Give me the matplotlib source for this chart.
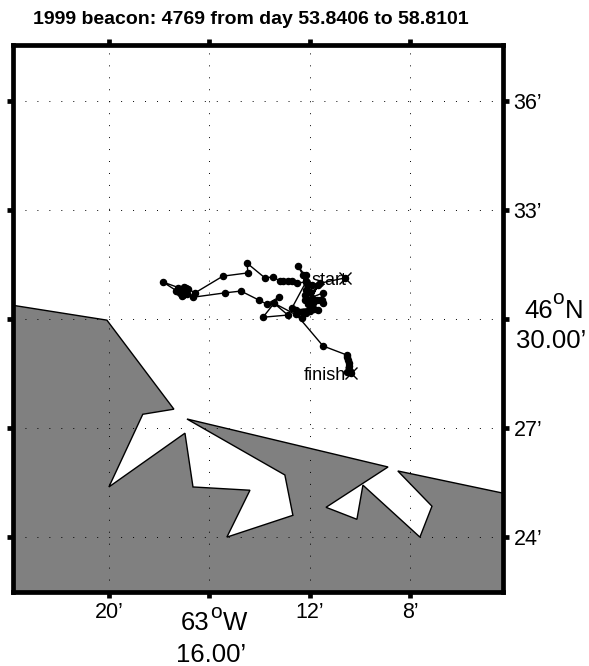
import numpy as np
import matplotlib
matplotlib.use('Agg')
import matplotlib.pyplot as plt

plt.rcParams['font.family'] = ['Liberation Sans', 'DejaVu Sans']

# minutes west of 63W / minutes north of 46N
land_lon = [23.84, 23.84, 20.08, 17.41, 18.65, 20.00, 16.97, 16.65, 14.38, 15.30, 12.67, 12.99,
            16.89, 8.88, 11.35, 10.12, 9.88, 7.61, 7.13, 8.49, 4.30, 4.30]
land_lat = [22.49, 30.38, 29.97, 27.52, 27.38, 25.38, 26.86, 25.38, 25.29, 24.00, 24.60, 25.71,
            27.25, 25.93, 24.82, 24.49, 25.43, 24.00, 24.85, 25.82, 25.21, 22.49]

track_lon = [10.60, 11.91, 12.47, 12.27, 12.15, 12.15, 12.07, 12.15, 11.99, 12.19, 12.07, 11.59, 12.19, 11.47,
             11.59, 11.47, 11.51, 11.71, 11.87, 11.91, 11.67, 12.07, 11.67, 12.27, 11.99, 11.83, 12.15, 12.47, 11.91,
             12.55, 12.71, 12.15, 12.51, 12.71, 12.87, 13.07, 13.19, 13.47, 13.78, 14.50, 14.46,
             15.46, 16.57, 16.85, 16.97, 17.85, 17.29, 17.33, 17.25, 17.17, 17.01, 17.09, 16.89,
             17.05, 16.93, 16.65, 15.38, 14.74, 14.02, 13.71, 13.23, 13.86, 12.87, 13.43, 12.31,
             12.55, 11.47, 10.52, 10.52, 10.48, 10.44, 10.44, 10.44, 10.52, 10.40, 10.36]
track_lat = [31.13, 30.94, 31.46, 31.21, 30.80, 31.21, 30.94, 31.05, 30.74, 30.66, 30.52, 30.99, 30.52, 30.72,
             30.52, 30.44, 30.52, 30.52, 30.44, 30.58, 30.94, 30.41, 30.25, 30.19, 30.22, 30.27, 30.16, 30.19, 30.30,
             30.25, 30.30, 31.02, 30.99, 31.05, 31.05, 31.05, 31.05, 31.16, 31.13, 31.54, 31.27,
             31.18, 30.72, 30.83, 30.80, 31.02, 30.77, 30.77, 30.85, 30.72, 30.88, 30.63, 30.69,
             30.66, 30.85, 30.60, 30.72, 30.77, 30.52, 30.41, 30.60, 30.05, 30.11, 30.44, 30.03,
             30.14, 29.26, 29.01, 28.95, 28.87, 28.78, 28.70, 28.61, 28.54, 28.57, 28.51]

x_ticks = [20, 16, 12, 8]
x_labels = ["20’", "", "12’", "8’"]
y_ticks = [24, 27, 30, 33, 36]
y_labels = ["24’", "27’", "", "33’", "36’"]

fig = plt.figure(figsize=(5.89, 6.66), dpi=100)
ax = fig.add_axes([12.5 / 589, 74 / 666, 490.5 / 589, 547 / 666])

ax.fill(land_lon, land_lat, facecolor='#808080', edgecolor='k', linewidth=1.0, zorder=1)
ax.plot(track_lon, track_lat, '-k', linewidth=1.0, marker='o', markersize=4.4, zorder=3)
ax.plot(track_lon[0], track_lat[0], 'xk', markersize=9, markeredgewidth=1.0, zorder=3)
ax.plot(track_lon[-1], track_lat[-1], 'xk', markersize=9, markeredgewidth=1.0, zorder=3)
ax.text(track_lon[0] - 0.05, track_lat[0] - 0.18, 'start', ha='right', va='baseline', fontsize=13, zorder=4)
ax.text(track_lon[-1] + 0.2, track_lat[-1] - 0.19, 'finish', ha='right', va='baseline', fontsize=13, zorder=4)

ax.set_xlim(23.84, 4.30)
ax.set_ylim(22.49, 37.54)
ax.set_xticks(x_ticks)
ax.set_xticklabels(x_labels, fontsize=15.5)
ax.set_yticks(y_ticks)
ax.set_yticklabels(y_labels, fontsize=15.5)
ax.tick_params(axis='both', top=True, right=True, left=True, bottom=True, length=4.5, width=3.4,
               direction='out', labelleft=False, labelright=True, pad=3)
ax.grid(True, color='k', linewidth=0.7, linestyle=(0, (1, 11.3)), zorder=2)
ax.set_axisbelow(False)
for s in ax.spines.values():
    s.set_linewidth(3.4)

fig.text(251 / 589, 1 - 19 / 666, '1999 beacon: 4769 from day 53.8406 to 58.8101',
         ha='center', va='center', fontsize=14, fontweight='bold')


def label(px, py, s, size=18.5, ha='left'):
    # big lat/lon labels, placed in figure pixels from the top left
    fig.text(px / 589, 1 - py / 666, s, ha=ha, va='baseline', fontsize=size)


label(524, 318.5, '46')
label(552, 304, 'o', size=15)
label(565, 318.5, 'N')
label(551.5, 348.5, "30.00’", ha='center')

label(181, 630, '63')
label(210.5, 618.5, 'o', size=15)
label(223, 630, 'W')
label(211.5, 662.5, "16.00’", ha='center')

fig.savefig('out.png', dpi=100)
